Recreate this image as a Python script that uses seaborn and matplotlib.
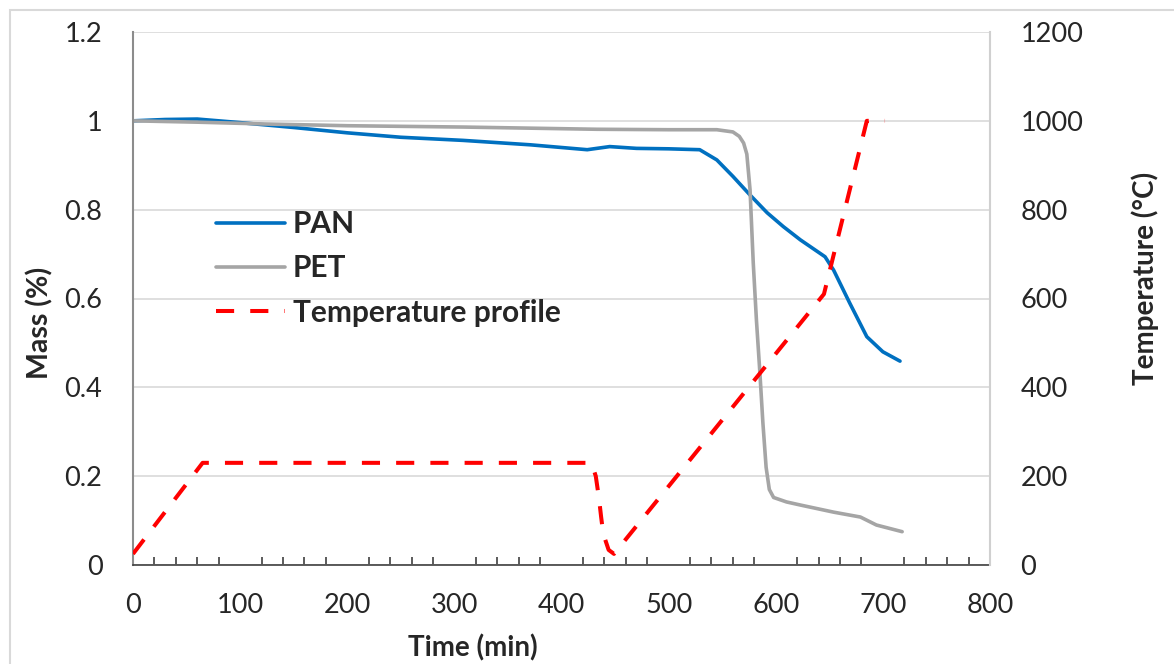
import numpy as np
import pandas as pd
import matplotlib
matplotlib.use("Agg")
import matplotlib.pyplot as plt
import seaborn as sns
from matplotlib.patches import Rectangle
from matplotlib.ticker import MultipleLocator

# values
time_pan = [0, 30, 60, 100, 150, 200, 250, 308, 371, 424, 445, 470, 500, 529, 545,
            560, 576, 592, 607, 623, 646, 654, 669, 685, 700, 716]
mass_pan = [1.0, 1.003, 1.004, 0.996, 0.985, 0.973, 0.963, 0.956, 0.946, 0.935, 0.942,
            0.938, 0.937, 0.935, 0.912, 0.875, 0.833, 0.793, 0.762, 0.732, 0.694, 0.664,
            0.59, 0.514, 0.48, 0.459]

time_pet = [0, 60, 121, 200, 308, 433, 500, 545, 560, 566, 570, 573, 576, 579, 582,
            585, 588, 591, 594, 598, 610, 623, 654, 679, 694, 718]
mass_pet = [1.0, 0.997, 0.993, 0.989, 0.986, 0.981, 0.98, 0.98, 0.975, 0.965, 0.95,
            0.925, 0.845, 0.68, 0.55, 0.44, 0.32, 0.22, 0.17, 0.152, 0.142, 0.135,
            0.119, 0.108, 0.09, 0.075]

time_temp = [0, 65, 428, 432, 435, 437, 439, 444, 449, 645, 685, 702]
temp = [25, 230, 230, 200, 150, 108, 70, 34, 25, 610, 1000, 1000]

sns.set_style("white")
plt.rcParams["font.family"] = ["Lato", "DejaVu Sans"]

fig = plt.figure(figsize=(11.74, 6.64), dpi=100)
ax = fig.add_axes([133 / 1174, 1 - 565 / 664, (990 - 133) / 1174, (565 - 32) / 664])
ax2 = ax.twinx()

# outer light frame
fig.patches.append(Rectangle((10 / 1174, -0.05), 1.2, 1.05 - 10 / 664,
                             transform=fig.transFigure, fill=False,
                             edgecolor="#d9d9d9", linewidth=1.5))

sns.lineplot(x=time_pan, y=mass_pan, ax=ax, color="#0070C0", linewidth=2.6, label="PAN")
sns.lineplot(x=time_pet, y=mass_pet, ax=ax, color="#A5A5A5", linewidth=2.6, label="PET")
sns.lineplot(x=time_temp, y=temp, ax=ax2, color="#FF0000", linewidth=2.9,
             linestyle=(0, (4.5, 4)), label="Temperature profile")

ax.set_xlim(0, 800)
ax.set_ylim(0, 1.2)
ax2.set_ylim(0, 1200)
ax.set_yticks(np.arange(0, 1.21, 0.2))
ax.set_yticklabels(["0", "0.2", "0.4", "0.6", "0.8", "1", "1.2"])
ax2.set_yticks(np.arange(0, 1201, 200))
ax.xaxis.set_major_locator(MultipleLocator(100))
ax.xaxis.set_minor_locator(MultipleLocator(20))

ax.grid(axis="y", color="#d9d9d9", linewidth=1.2)
ax.set_axisbelow(True)

for a in (ax, ax2):
    a.spines["top"].set_visible(False)
ax.spines["left"].set_color("#8c8c8c")
ax.spines["left"].set_linewidth(1.5)
ax.spines["bottom"].set_color("#404040")
ax.spines["bottom"].set_linewidth(1.2)
ax2.spines["right"].set_color("#d0d0d0")
ax2.spines["right"].set_linewidth(1.5)
for s in ("left", "bottom"):
    ax2.spines[s].set_visible(False)
ax.spines["right"].set_visible(False)

ax.tick_params(axis="y", length=0, pad=22, labelsize=19.5, colors="#262626")
ax2.tick_params(axis="y", length=0, pad=22, labelsize=19.5, colors="#262626")
ax.tick_params(axis="x", which="major", direction="inout", length=18, width=1.2,
               color="#404040", pad=11, labelsize=19.5, labelcolor="#262626")
ax.tick_params(axis="x", which="minor", direction="in", length=6, width=1.2,
               color="#404040", bottom=True)

ax.set_xlabel("Time (min)", fontsize=20, fontweight="bold", va="center")
ax.set_ylabel("Mass (%)", fontsize=20.5, fontweight="bold", va="center")
ax2.set_ylabel("Temperature (°C)", fontsize=20, fontweight="bold", va="center")
ax.xaxis.set_label_coords((473 - 133) / 857, (565 - 648) / 533)
ax.yaxis.set_label_coords((40 - 133) / 857, (565 - 323) / 533)
ax2.yaxis.set_label_coords((1145 - 133) / 857, (565 - 278) / 533)

h1, l1 = ax.get_legend_handles_labels()
h2, l2 = ax2.get_legend_handles_labels()
ax2.get_legend().remove()
ax.get_legend().remove()
leg = ax2.legend(h1 + h2, l1 + l2, loc="upper left",
                 bbox_to_anchor=(216 / 1174, 1 - 210 / 664), bbox_transform=fig.transFigure,
                 frameon=False, handlelength=2.3, handletextpad=0.27, labelspacing=0.55,
                 prop={"size": 21.5, "weight": "bold"}, borderpad=0, borderaxespad=0)

fig.savefig("out.png", dpi=100)
